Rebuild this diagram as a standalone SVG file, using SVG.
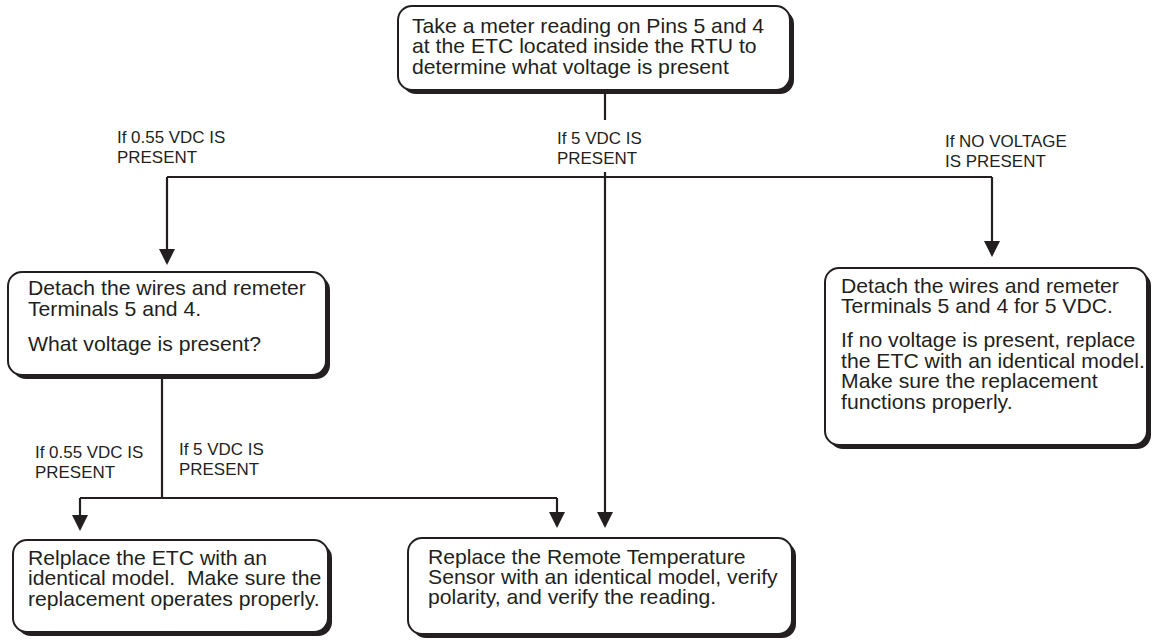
<svg xmlns="http://www.w3.org/2000/svg" width="1157" height="641" viewBox="0 0 1157 641">
<style>
.shadow{fill:#231f20;}
.box{fill:#ffffff;stroke:#231f20;stroke-width:2;}
.t{font-family:"Liberation Sans",Arial,sans-serif;font-size:20px;fill:#231f20;}
.lbl{font-family:"Liberation Sans",Arial,sans-serif;font-size:16px;fill:#231f20;}
.conn{fill:none;stroke:#231f20;stroke-width:2.2;}
</style>
<defs>
<marker id="arr" markerUnits="userSpaceOnUse" markerWidth="16" markerHeight="16" refX="14" refY="8" orient="auto">
<path d="M0,0 L16,8 L0,16 z" fill="#231f20"/>
</marker>
</defs>
<rect width="1157" height="641" fill="#ffffff"/>

<g id="connectors">
<path class="conn" d="M605 90 V120"/>
<path class="conn" d="M605 172 V526" marker-end="url(#arr)"/>
<path class="conn" d="M167 177 H992"/>
<path class="conn" d="M167 177 V263" marker-end="url(#arr)"/>
<path class="conn" d="M992 177 V255" marker-end="url(#arr)"/>
<path class="conn" d="M162 375 V498"/>
<path class="conn" d="M80 498 H557"/>
<path class="conn" d="M80 498 V529" marker-end="url(#arr)"/>
<path class="conn" d="M557 498 V526" marker-end="url(#arr)"/>
</g>

<g id="labels">
<text class="lbl" transform="translate(117,143) scale(1.06,1)"><tspan x="0">If 0.55 VDC IS</tspan><tspan x="0" dy="20">PRESENT</tspan></text>
<text class="lbl" transform="translate(557,144) scale(1.06,1)"><tspan x="0">If 5 VDC IS</tspan><tspan x="0" dy="20">PRESENT</tspan></text>
<text class="lbl" transform="translate(945,147) scale(1.06,1)"><tspan x="0">If NO VOLTAGE</tspan><tspan x="0" dy="20">IS PRESENT</tspan></text>
<text class="lbl" transform="translate(35,458) scale(1.06,1)"><tspan x="0">If 0.55 VDC IS</tspan><tspan x="0" dy="20">PRESENT</tspan></text>
<text class="lbl" transform="translate(179,455) scale(1.06,1)"><tspan x="0">If 5 VDC IS</tspan><tspan x="0" dy="20">PRESENT</tspan></text>
</g>

<g id="node-start">
<rect class="shadow" x="402" y="10" width="392" height="84" rx="14"/>
<rect class="box" x="398" y="6" width="392" height="84" rx="14"/>
<text class="t" transform="translate(412,33) scale(1.06,1)"><tspan x="0">Take a meter reading on Pins 5 and 4</tspan><tspan x="0" dy="20.5">at the ETC located inside the RTU to</tspan><tspan x="0" dy="20.5">determine what voltage is present</tspan></text>
</g>

<g id="node-detach-left">
<rect class="shadow" x="12" y="276" width="318" height="103" rx="14"/>
<rect class="box" x="8" y="272" width="318" height="103" rx="14"/>
<text class="t" transform="translate(28,295) scale(1.06,1)"><tspan x="0">Detach the wires and remeter</tspan><tspan x="0" dy="21.5">Terminals 5 and 4.</tspan><tspan x="0" dy="35">What voltage is present?</tspan></text>
</g>

<g id="node-detach-right">
<rect class="shadow" x="829" y="272" width="322" height="177" rx="14"/>
<rect class="box" x="825" y="268" width="322" height="177" rx="14"/>
<text class="t" transform="translate(841,293) scale(1.06,1)"><tspan x="0">Detach the wires and remeter</tspan><tspan x="0" dy="20.5">Terminals 5 and 4 for 5 VDC.</tspan><tspan x="0" dy="34">If no voltage is present, replace</tspan><tspan x="0" dy="20.5">the ETC with an identical model.</tspan><tspan x="0" dy="20.5">Make sure the replacement</tspan><tspan x="0" dy="20.5">functions properly.</tspan></text>
</g>

<g id="node-replace-etc">
<rect class="shadow" x="17" y="544" width="315" height="92" rx="14"/>
<rect class="box" x="13" y="540" width="315" height="92" rx="14"/>
<text class="t" transform="translate(28,565) scale(1.06,1)"><tspan x="0">Relplace the ETC with an</tspan><tspan x="0" dy="20.5">identical model.&#160; Make sure the</tspan><tspan x="0" dy="20.5">replacement operates properly.</tspan></text>
</g>

<g id="node-replace-sensor">
<rect class="shadow" x="412" y="542" width="384" height="96" rx="14"/>
<rect class="box" x="408" y="538" width="384" height="96" rx="14"/>
<text class="t" transform="translate(428,564) scale(1.06,1)"><tspan x="0">Replace the Remote Temperature</tspan><tspan x="0" dy="20">Sensor with an identical model, verify</tspan><tspan x="0" dy="20">polarity, and verify the reading.</tspan></text>
</g>
</svg>
